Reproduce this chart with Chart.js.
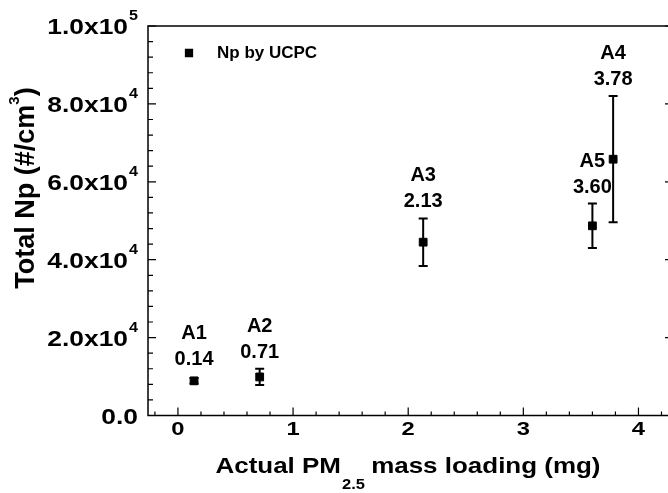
<!DOCTYPE html>
<html>
<head>
<meta charset="utf-8">
<script src="https://cdn.jsdelivr.net/npm/chart.js@4.4.0/dist/chart.umd.min.js"></script>
<style>
    html, body { margin: 0; padding: 0; background: #fff; }
    #wrap { width: 668px; height: 493px; overflow: hidden; }
</style>
</head>
<body>
<div id="wrap"><canvas id="chart" width="690" height="493"></canvas></div>
<script>
const sampleNames = ["A1", "A2", "A3", "A4", "A5"];
const massLoading = [0.14, 0.71, 2.13, 3.78, 3.60];
const totalNp = [8900, 9900, 44500, 65800, 48700];
const npError = [700, 2100, 6100, 16200, 5700];

const xTicks = [0, 1, 2, 3, 4];
const yTicks = [0, 20000, 40000, 60000, 80000, 100000];
const yTickMantissa = ["0.0", "2.0x10", "4.0x10", "6.0x10", "8.0x10", "1.0x10"];
const yTickExponent = ["", "4", "4", "4", "4", "5"];

const seriesLabel = "Np by UCPC";
const FAMILY = '"Liberation Sans", Arial, sans-serif';

function font(size) {
    return `bold ${size}px ${FAMILY}`;
}

// bold text, optionally stretched sideways; returns drawn width
function drawText(ctx, str, x, y, size, align, sx = 1) {
    ctx.font = font(size);
    const w = ctx.measureText(str).width * sx;
    const x0 = align === "center" ? x - w / 2 : align === "right" ? x - w : x;
    ctx.save();
    ctx.translate(x0, y);
    ctx.scale(sx, 1);
    ctx.textAlign = "left";
    ctx.textBaseline = "alphabetic";
    ctx.fillText(str, 0, 0);
    ctx.restore();
    return w;
}

function textWidth(ctx, str, size, sx = 1) {
    ctx.font = font(size);
    return ctx.measureText(str).width * sx;
}

// error bars under the markers
const errorBars = {
    id: "errorBars",
    beforeDatasetsDraw(chart) {
        const { ctx, scales: { x, y } } = chart;
        ctx.save();
        ctx.strokeStyle = "#000";
        ctx.lineWidth = 2;
        massLoading.forEach((m, i) => {
            const px = x.getPixelForValue(m);
            const top = y.getPixelForValue(totalNp[i] + npError[i]);
            const bot = y.getPixelForValue(totalNp[i] - npError[i]);
            ctx.beginPath();
            ctx.moveTo(px, top);
            ctx.lineTo(px, bot);
            ctx.moveTo(px - 4.5, top);
            ctx.lineTo(px + 4.5, top);
            ctx.moveTo(px - 4.5, bot);
            ctx.lineTo(px + 4.5, bot);
            ctx.stroke();
        });
        ctx.restore();
    },
};

// Origin-style frame, inward ticks, labels and annotations
const frame = {
    id: "frame",
    afterDraw(chart) {
        const { ctx, chartArea: a, scales: { x, y } } = chart;
        ctx.save();
        ctx.strokeStyle = "#000";
        ctx.fillStyle = "#000";
        ctx.lineWidth = 1.5;
        ctx.strokeRect(a.left, a.top, a.right - a.left, a.bottom - a.top);

        ctx.lineWidth = 1.2;
        ctx.beginPath();
        for (let v = 0; v <= 100000; v += 4000) {
            const py = y.getPixelForValue(v);
            const len = v % 20000 === 0 ? 8 : 5;
            ctx.moveTo(a.left, py);
            ctx.lineTo(a.left + len, py);
            ctx.moveTo(a.right, py);
            ctx.lineTo(a.right - len, py);
        }
        for (let k = -1; k <= 21; k++) {
            const px = x.getPixelForValue(k * 0.2);
            if (px < a.left || px > a.right) continue;
            const len = k % 5 === 0 ? 8 : 4;
            ctx.moveTo(px, a.bottom);
            ctx.lineTo(px, a.bottom - len);
        }
        ctx.stroke();

        // y tick labels: mantissa + raised exponent, right edge at x=138
        yTicks.forEach((v, i) => {
            const py = y.getPixelForValue(v);
            const exp = yTickExponent[i];
            const ws = exp ? textWidth(ctx, exp, 14, 1.15) + 1 : 0;
            const wb = textWidth(ctx, yTickMantissa[i], 22, 1.2);
            const x0 = 138 - ws - wb;
            drawText(ctx, yTickMantissa[i], x0, py + 8, 22, "left", 1.2);
            if (exp) {
                drawText(ctx, exp, x0 + wb + 1, py - 6, 14, "left", 1.15);
            }
        });

        // x tick labels
        xTicks.forEach((v) => {
            drawText(ctx, String(v), x.getPixelForValue(v), 435, 19, "center", 1.25);
        });

        // x title with subscript
        const sx = 1.18;
        const w1 = textWidth(ctx, "Actual PM", 22, sx);
        const w2 = textWidth(ctx, "2.5", 14, sx);
        const w3 = textWidth(ctx, " mass loading (mg)", 22, sx);
        const tx = (a.left + 668) / 2 - (w1 + w2 + w3) / 2;
        drawText(ctx, "Actual PM", tx, 473, 22, "left", sx);
        drawText(ctx, "2.5", tx + w1 + 1, 489, 14, "left", sx);
        drawText(ctx, " mass loading (mg)", tx + w1 + w2, 473, 22, "left", sx);

        // y title, rotated, with superscript
        ctx.save();
        ctx.translate(25, 188);
        ctx.rotate(-Math.PI / 2);
        const ya = textWidth(ctx, "Total Np (#/cm", 27);
        const yb = textWidth(ctx, "3", 15);
        const yc = textWidth(ctx, ")", 27);
        const ly = -(ya + yb + yc) / 2;
        drawText(ctx, "Total Np (#/cm", ly, 9, 27, "left");
        drawText(ctx, "3", ly + ya, -6, 15, "left");
        drawText(ctx, ")", ly + ya + yb, 9, 27, "left");
        ctx.restore();

        // legend inside the frame
        const ds = chart.data.datasets[0];
        Chart.helpers.drawPoint(ctx, { pointStyle: "rect", radius: 5, borderWidth: 1 }, 189, 53);
        ctx.fillStyle = "#000";
        ctx.fill();
        drawText(ctx, ds.label, 217, 58, 17, "left");

        // sample annotations above each error bar
        massLoading.forEach((m, i) => {
            const px = x.getPixelForValue(m);
            const top = Math.min(
                y.getPixelForValue(totalNp[i] + npError[i]),
                y.getPixelForValue(totalNp[i]) - 5
            );
            drawText(ctx, m.toFixed(2), px, top - 11, 20, "center");
            drawText(ctx, sampleNames[i], px, top - 37, 20, "center");
        });
        ctx.restore();
    },
};

new Chart(document.getElementById("chart"), {
    type: "scatter",
    data: {
        datasets: [
            {
                label: seriesLabel,
                data: massLoading.map((m, i) => ({ x: m, y: totalNp[i] })),
                pointStyle: "rect",
                pointRadius: 5.5,
                pointHoverRadius: 5.5,
                backgroundColor: "#000",
                borderColor: "#000",
                borderWidth: 1,
            },
        ],
    },
    options: {
        responsive: false,
        animation: false,
        layout: {
            padding: { left: 148, top: 26, right: 17, bottom: 77.5 },
        },
        scales: {
            x: { type: "linear", min: -0.26, max: 4.3, display: false },
            y: { type: "linear", min: 0, max: 100000, display: false },
        },
        plugins: {
            legend: { display: false },
            tooltip: { enabled: false },
        },
    },
    plugins: [errorBars, frame],
});
</script>
</body>
</html>
